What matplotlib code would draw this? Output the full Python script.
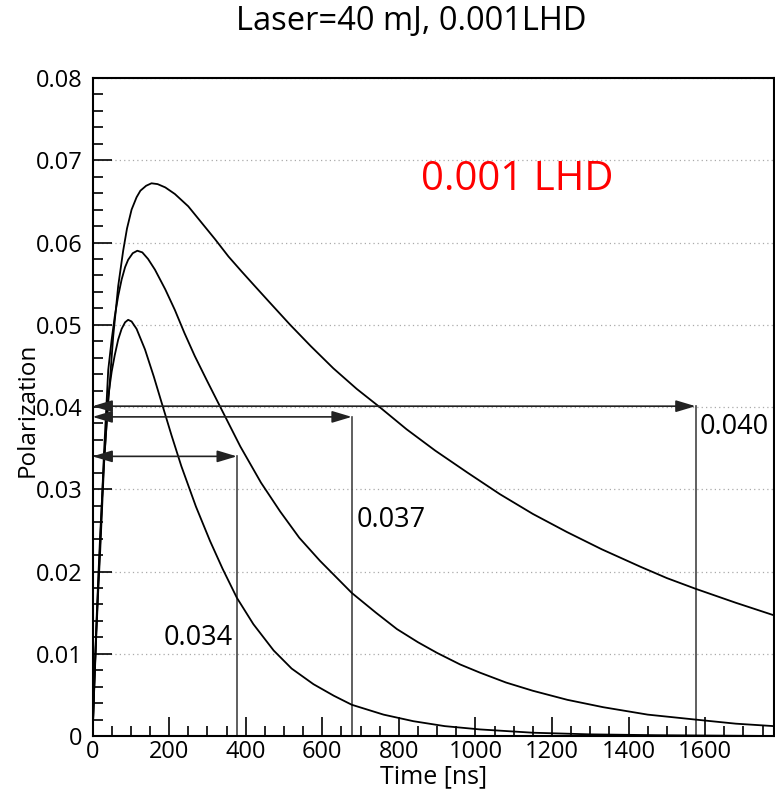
import numpy as np
import matplotlib
matplotlib.use("Agg")
import matplotlib.pyplot as plt
import matplotlib.ticker as mticker

plt.rcParams["font.family"] = ["Open Sans", "DejaVu Sans"]

# curves: time [ns], polarization
t_034 = [0, 5, 10, 15, 20, 30, 41, 50, 58, 67, 76, 85, 93, 102, 115, 137, 160, 180, 206, 232,
         270, 307, 340, 377, 420, 473, 520, 577, 630, 677, 760, 838, 920, 1012, 1150, 1300,
         1470, 1780]
p_034 = [0, 0.0065, 0.0125, 0.0178, 0.0225, 0.0330, 0.0413, 0.0443, 0.0463, 0.0482, 0.0495,
         0.0503, 0.0506, 0.0504, 0.0495, 0.0470, 0.0437, 0.0406, 0.0366, 0.0328, 0.0279,
         0.0237, 0.0203, 0.0168, 0.0136, 0.0104, 0.0082, 0.0063, 0.0049, 0.0038, 0.0026,
         0.0018, 0.0012, 0.0008, 0.0004, 0.0002, 0.0001, 0.0]

t_037 = [0, 5, 10, 15, 20, 30, 41, 50, 58, 67, 76, 85, 93, 105, 117, 130, 145, 163, 190, 215,
         240, 267, 300, 337, 386, 440, 490, 540, 594, 677, 740, 795, 850, 900, 960, 1012,
         1080, 1150, 1240, 1334, 1450, 1574, 1680, 1780]
p_037 = [0, 0.0068, 0.0130, 0.0185, 0.0235, 0.0345, 0.0445, 0.0482, 0.0510, 0.0535, 0.0555,
         0.0570, 0.0579, 0.0587, 0.0590, 0.0588, 0.0580, 0.0567, 0.0543, 0.0518, 0.0490,
         0.0462, 0.0431, 0.0397, 0.0352, 0.0308, 0.0273, 0.0241, 0.0213, 0.0174, 0.0150,
         0.0130, 0.0114, 0.0101, 0.0087, 0.0077, 0.0065, 0.0055, 0.0044, 0.0035, 0.0026,
         0.0020, 0.0015, 0.0012]

t_040 = [0, 5, 10, 15, 20, 30, 41, 54, 67, 80, 90, 102, 115, 125, 140, 154, 170, 190, 215, 250,
         285, 320, 355, 389, 420, 459, 516, 570, 629, 690, 747, 820, 895, 980, 1064, 1150,
         1239, 1330, 1430, 1500, 1575, 1680, 1778]
p_040 = [0, 0.0070, 0.0135, 0.0192, 0.0245, 0.0335, 0.0405, 0.0486, 0.0547, 0.0590, 0.0617,
         0.0640, 0.0655, 0.0663, 0.0669, 0.0672, 0.0671, 0.0667, 0.0659, 0.0644, 0.0624,
         0.0604, 0.0583, 0.0565, 0.0549, 0.0529, 0.0500, 0.0474, 0.0447, 0.0422, 0.0401,
         0.0373, 0.0347, 0.0320, 0.0294, 0.0270, 0.0248, 0.0227, 0.0206, 0.0192, 0.0179,
         0.0162, 0.0147]

# markers: arrow level, end time, label, label position
arrow_y = [0.0340, 0.0388, 0.0401]
arrow_t = [377, 677, 1575]
labels = ["0.034", "0.037", "0.040"]
label_t = [185, 691, 1585]
label_y = [0.0119, 0.0263, 0.0376]

fig = plt.figure(figsize=(7.75, 7.92), dpi=100)
ax = fig.add_axes([0.1194, 0.0707, 0.8794, 0.8308])

for t, p in [(t_034, p_034), (t_037, p_037), (t_040, p_040)]:
    ax.plot(t, p, color="black", lw=1.3, zorder=3, solid_joinstyle="round")

for y, t in zip(arrow_y, arrow_t):
    ax.annotate("", xy=(t, y), xytext=(0, y),
                arrowprops=dict(arrowstyle="<|-|>,head_length=0.6,head_width=0.18",
                                mutation_scale=20, color="#222222", lw=1.2,
                                shrinkA=0, shrinkB=0),
                annotation_clip=False, zorder=4)
    ax.plot([t, t], [0, y], color="#444444", lw=1.2, zorder=2)

for lab, t, y in zip(labels, label_t, label_y):
    ax.text(t, y, lab, fontsize=19.5, ha="left", va="center")

ax.text(1109, 0.0676, "0.001 LHD", color="red", fontsize=29, ha="center", va="center")

ax.set_xlim(0, 1780)
ax.set_ylim(0, 0.08)
ax.xaxis.set_major_locator(mticker.MultipleLocator(200))
ax.xaxis.set_minor_locator(mticker.MultipleLocator(50))
ax.yaxis.set_major_locator(mticker.MultipleLocator(0.01))
ax.yaxis.set_minor_locator(mticker.MultipleLocator(0.002))
ax.yaxis.set_major_formatter(mticker.FuncFormatter(lambda v, pos: "0" if v == 0 else "%g" % round(v, 3)))
ax.tick_params(which="both", direction="in", top=False, right=False, labelsize=17)
ax.tick_params(which="major", length=14, width=1.2)
ax.tick_params(which="minor", length=7, width=1.2)
ax.tick_params(axis="x", pad=3)
ax.tick_params(axis="y", pad=7)
ax.yaxis.grid(True, color="#aaaaaa", lw=0.9, linestyle=(0, (1, 2.5)))
for s in ax.spines.values():
    s.set_linewidth(1.5)

fig.text(411 / 775, 1 - 22 / 792, "Laser=40 mJ, 0.001LHD", fontsize=23.5, ha="center", va="center")
fig.text(434 / 775, 1 - 777 / 792, "Time [ns]", fontsize=18, ha="center", va="center")
fig.text(28 / 775, 1 - 410 / 792, "Polarization", fontsize=17.5, ha="center", va="center", rotation=90)

fig.savefig("out.png", dpi=100)
